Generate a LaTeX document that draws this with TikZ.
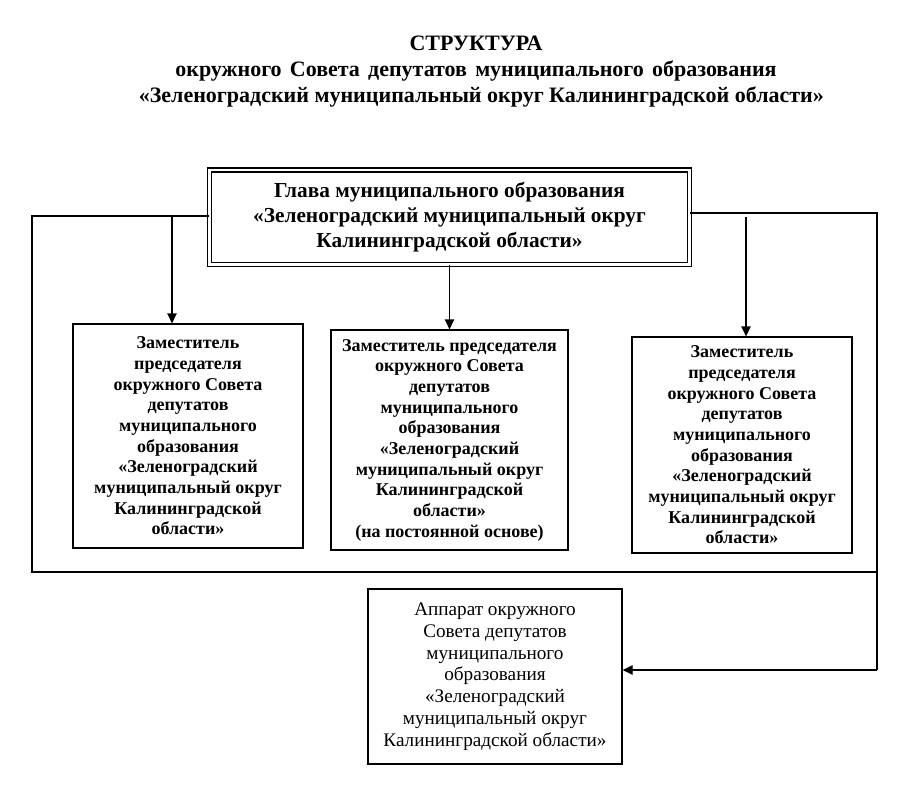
\documentclass[tikz,border=0pt]{standalone}
\usepackage{fontspec}
\setmainfont{Liberation Serif}
\usetikzlibrary{arrows.meta}
\begin{document}
\begin{tikzpicture}[x=0.75pt,y=-0.75pt,
  box/.style={draw, line width=0.9pt, align=center, inner sep=0pt},
  bt/.style={font=\fontsize{13.5}{15.5}\selectfont\bfseries},
  conn/.style={line width=0.9pt},
  arr/.style={conn,-{Triangle[length=7.5pt,width=7pt]}}]
\useasboundingbox (0,0) rectangle (902,790);
\node[font=\fontsize{16.5}{19.5}\selectfont\bfseries, align=center, inner sep=0pt] (title) at (476,72)
  {СТРУКТУРА\\\makebox[451pt][s]{окружного Совета депутатов муниципального образования}\\\hspace*{8pt}«Зеленоградский муниципальный округ Калининградской области»};
\node[draw, line width=0.8pt, double, double distance=2.2pt, align=center, inner sep=0pt,
  minimum width=360pt, minimum height=70.9pt,
  font=\fontsize{16}{18.75}\selectfont\bfseries] (glava) at (449.5,217.25)
  {Глава муниципального образования\\«Зеленоградский муниципальный округ\\Калининградской области»};
\node[box, bt, minimum width=172.5pt, minimum height=168pt] (z1) at (188,436)
  {Заместитель\\председателя\\окружного Совета\\депутатов\\муниципального\\образования\\«Зеленоградский\\муниципальный округ\\Калининградской\\области»};
\node[box, bt, minimum width=177.75pt, minimum height=165pt] (z2) at (449.5,440)
  {Заместитель председателя\\окружного Совета\\депутатов\\муниципального\\образования\\«Зеленоградский\\муниципальный округ\\Калининградской\\области»\\(на постоянной основе)};
\node[box, bt, minimum width=165pt, minimum height=162pt] (z3) at (742,445)
  {Заместитель\\председателя\\окружного Совета\\депутатов\\муниципального\\образования\\«Зеленоградский\\муниципальный округ\\Калининградской\\области»};
\node[box, font=\fontsize{14.4}{16.3}\selectfont, minimum width=190.5pt, minimum height=131.25pt] (app) at (495,676.5)
  {Аппарат окружного\\Совета депутатов\\муниципального\\образования\\«Зеленоградский\\муниципальный округ\\Калининградской области»};
\coordinate (yl) at (0,216);
\coordinate (yr) at (0,213);
\coordinate (ya) at (0,670);
\coordinate (lt) at (32,216);
\coordinate (lb) at (32,572);
\coordinate (rt) at (877,213);
\coordinate (rb) at (877,670);
\coordinate (a1) at (172,216);
\coordinate (a3) at (746,217);
\draw[conn] (glava.west |- yl) -- (lt) -- (lb) -- (lb -| rt);
\draw[conn] (glava.east |- yr) -- (rt) -- (rb);
\draw[arr] (rb) -- (app.east |- ya);
\draw[arr] (a1) -- (a1 |- z1.north);
\draw[arr] (glava.south) -- (z2.north);
\draw[arr] (a3) -- (a3 |- z3.north);
\end{tikzpicture}
\end{document}
